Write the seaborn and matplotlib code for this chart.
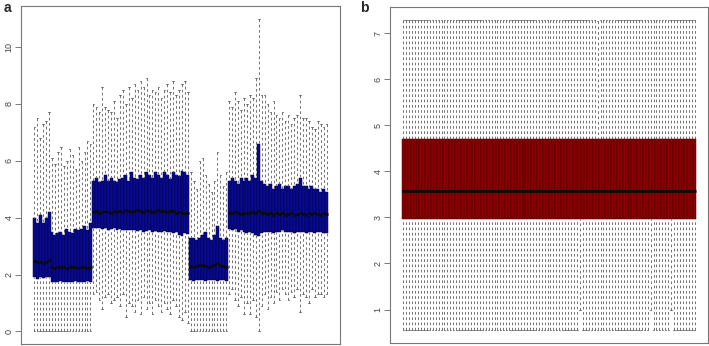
import numpy as np
import pandas as pd
import matplotlib
matplotlib.use('Agg')
import matplotlib.pyplot as plt
import seaborn as sns

# ---- panel a : raw intensities, 100 arrays in 5 batches ----
# batch 1 (6 arrays)
lo1 = [0.0, 0.0, 0.0, 0.0, 0.0, 0.0]
q1_1 = [1.9, 1.85, 1.9, 1.88, 1.9, 1.9]
med1 = [2.48, 2.45, 2.45, 2.42, 2.45, 2.5]
q3_1 = [4.0, 3.8, 4.1, 3.8, 4.0, 4.2]
hi1 = [7.2, 7.5, 6.8, 7.3, 7.4, 7.7]

# batch 2 (14 arrays)
lo2 = [0.0, 0.0, 0.0, 0.0, 0.0, 0.0, 0.0, 0.0, 0.0, 0.0, 0.0, 0.0, 0.0, 0.0]
q1_2 = [1.75, 1.73, 1.75, 1.76, 1.74, 1.75, 1.75, 1.73, 1.76, 1.75, 1.74, 1.75, 1.76, 1.75]
med2 = [2.25, 2.22, 2.25, 2.28, 2.25, 2.22, 2.25, 2.27, 2.25, 2.24, 2.26, 2.25, 2.23, 2.25]
q3_2 = [3.5, 3.4, 3.45, 3.5, 3.4, 3.6, 3.5, 3.45, 3.6, 3.55, 3.6, 3.7, 3.55, 3.8]
hi2 = [6.1, 5.9, 6.3, 6.5, 5.8, 6.0, 6.4, 6.2, 5.7, 6.5, 6.0, 6.3, 6.7, 6.6]

# batch 3 (33 arrays)
lo3 = [1.3, 1.4, 1.1, 0.8, 1.2, 1.3, 1.0, 1.1, 1.2, 0.9, 1.3, 0.5, 1.0, 0.9, 0.7, 1.1, 0.6,
       1.2, 0.8, 1.0, 0.6, 1.1, 0.9, 0.7, 1.0, 0.8, 0.6, 1.1, 0.9, 0.5, 0.4, 0.7, 0.3]
q1_3 = [3.65, 3.62, 3.64, 3.6, 3.62, 3.58, 3.6, 3.62, 3.58, 3.6, 3.56, 3.58, 3.55, 3.57, 3.55, 3.52, 3.55,
        3.5, 3.52, 3.55, 3.5, 3.52, 3.48, 3.5, 3.52, 3.48, 3.5, 3.45, 3.48, 3.4, 3.35, 3.45, 3.42]
med3 = [4.2, 4.22, 4.18, 4.2, 4.25, 4.2, 4.18, 4.22, 4.2, 4.24, 4.2, 4.26, 4.22, 4.2, 4.25, 4.28, 4.22,
        4.2, 4.26, 4.24, 4.2, 4.22, 4.28, 4.25, 4.22, 4.2, 4.24, 4.22, 4.18, 4.2, 4.16, 4.18, 4.15]
q3_3 = [5.3, 5.4, 5.25, 5.3, 5.5, 5.3, 5.4, 5.3, 5.25, 5.35, 5.4, 5.5, 5.3, 5.6, 5.4, 5.35, 5.5,
        5.4, 5.6, 5.5, 5.4, 5.6, 5.5, 5.4, 5.6, 5.5, 5.35, 5.6, 5.5, 5.45, 5.65, 5.6, 5.5]
hi3 = [8.0, 7.9, 7.7, 8.6, 7.9, 7.8, 7.7, 8.1, 7.5, 8.3, 8.5, 8.0, 8.6, 8.2, 8.7, 8.5, 8.8,
       8.6, 8.9, 8.3, 8.5, 8.4, 8.6, 8.2, 8.5, 8.7, 8.4, 8.8, 8.3, 8.5, 8.7, 8.8, 8.4]

# batch 4 (13 arrays)
lo4 = [0.0, 0.0, 0.0, 0.0, 0.0, 0.0, 0.0, 0.0, 0.0, 0.0, 0.0, 0.0, 0.0]
q1_4 = [1.8, 1.78, 1.8, 1.82, 1.8, 1.79, 1.8, 1.81, 1.8, 1.78, 1.8, 1.8, 1.79]
med4 = [2.3, 2.28, 2.3, 2.32, 2.35, 2.3, 2.28, 2.3, 2.35, 2.4, 2.32, 2.3, 2.28]
q3_4 = [3.3, 3.3, 3.2, 3.3, 3.4, 3.5, 3.3, 3.2, 3.4, 3.7, 3.3, 3.2, 3.3]
hi4 = [5.6, 5.3, 5.0, 6.0, 6.1, 5.5, 5.2, 4.9, 5.3, 6.3, 5.5, 5.1, 5.6]

# batch 5 (34 arrays)
lo5 = [1.3, 1.5, 1.1, 0.9, 1.2, 0.6, 1.0, 0.6, 1.1, 0.5, 0.0, 0.9, 1.3, 0.8, 1.2, 1.0, 1.4,
       1.1, 1.5, 1.3, 1.1, 1.4, 1.2, 1.5, 0.7, 1.3, 1.2, 1.0, 1.5, 1.2, 1.3, 1.3, 1.2, 1.3]
q1_5 = [3.6, 3.55, 3.6, 3.5, 3.55, 3.5, 3.45, 3.5, 3.45, 3.4, 3.35, 3.45, 3.5, 3.5, 3.5, 3.45, 3.5,
        3.5, 3.55, 3.5, 3.5, 3.5, 3.45, 3.5, 3.5, 3.5, 3.45, 3.5, 3.5, 3.45, 3.5, 3.5, 3.45, 3.45]
med5 = [4.18, 4.15, 4.2, 4.15, 4.12, 4.15, 4.18, 4.15, 4.2, 4.15, 4.22, 4.18, 4.15, 4.12, 4.15, 4.1, 4.15,
        4.12, 4.15, 4.1, 4.12, 4.15, 4.1, 4.12, 4.15, 4.12, 4.1, 4.15, 4.12, 4.15, 4.12, 4.1, 4.15, 4.12]
q3_5 = [5.3, 5.4, 5.3, 5.2, 5.4, 5.3, 5.4, 5.3, 5.5, 5.4, 6.6, 5.3, 5.2, 5.1, 5.2, 5.0, 5.1,
        5.2, 5.0, 5.1, 5.1, 5.0, 5.1, 5.2, 5.4, 5.1, 5.1, 5.0, 5.1, 5.0, 5.0, 4.9, 5.0, 4.9]
hi5 = [8.1, 7.9, 8.4, 8.1, 7.8, 8.2, 8.0, 8.3, 8.2, 8.9, 11.0, 8.3, 8.3, 8.0, 7.7, 8.1, 7.6,
       7.5, 7.7, 7.4, 7.6, 7.3, 7.5, 7.6, 8.3, 7.5, 7.5, 7.4, 7.2, 7.1, 7.4, 7.3, 7.2, 7.3]

# ---- panel b : after normalisation every array has the same box ----
n_b = 100
b_lo_value = 0.55
b_q1_value = 2.97
b_med_value = 3.57
b_q3_value = 4.71
b_hi_value = 7.29
b_lo_short = {60: 0.98, 84: 0.98, 91: 0.98}   # a few arrays stop higher
b_hi_short = {66: 7.26}

a_lo = lo1 + lo2 + lo3 + lo4 + lo5
a_q1 = q1_1 + q1_2 + q1_3 + q1_4 + q1_5
a_med = med1 + med2 + med3 + med4 + med5
a_q3 = q3_1 + q3_2 + q3_3 + q3_4 + q3_5
a_hi = hi1 + hi2 + hi3 + hi4 + hi5

b_lo = [b_lo_short.get(i, b_lo_value) for i in range(n_b)]
b_q1 = [b_q1_value] * n_b
b_med = [b_med_value] * n_b
b_q3 = [b_q3_value] * n_b
b_hi = [b_hi_short.get(i, b_hi_value) for i in range(n_b)]


def long_table(lo, q1, med, q3, hi):
    # five points per array give exactly these quartiles / extremes
    rows = []
    for i, vals in enumerate(zip(lo, q1, med, q3, hi)):
        for v in vals:
            rows.append((i, v))
    return pd.DataFrame(rows, columns=['sample', 'value'])


sns.set_theme(style='white')
plt.rcParams['font.family'] = ['Liberation Sans', 'DejaVu Sans']
plt.rcParams['lines.scale_dashes'] = False


def draw(ax, df, fill, edge, ylim, ticks):
    sns.boxplot(data=df, x='sample', y='value', ax=ax, color=fill, saturation=1,
                width=1.0, whis=(0, 100), linecolor=edge, linewidth=0.35,
                fliersize=0,
                whiskerprops={'linestyle': (0, (1.9, 1.9)), 'color': '#5a5a5a', 'linewidth': 0.6},
                capprops={'color': '#5a5a5a', 'linewidth': 0.6},
                medianprops={'color': '#0a0a0a', 'linewidth': 2.0})
    # dashes start from the whisker end, like R does
    for ln in ax.lines:
        x = np.asarray(ln.get_xdata())
        y = np.asarray(ln.get_ydata())
        if len(x) == 2 and x[0] == x[1]:
            ln.set_data(x[::-1], y[::-1])
    ax.set_xlim(-4.5, 103.5)
    ax.set_ylim(*ylim)
    ax.set_xticks([])
    ax.set_yticks(ticks)
    ax.set_yticklabels([str(t) for t in ticks])
    ax.set_xlabel('')
    ax.set_ylabel('')
    ax.tick_params(axis='y', left=True, length=4, width=0.6, color='#666666',
                   labelsize=6.5, labelcolor='#444444', pad=1.5, labelrotation=90)
    for sp in ax.spines.values():
        sp.set_color('#777777')
        sp.set_linewidth(0.8)
    for lab in ax.get_yticklabels():
        lab.set_va('center')


fig = plt.figure(figsize=(7.09, 3.46), dpi=100)
ax_a = fig.add_axes([21 / 709, 2 / 346, 319 / 709, 338 / 346])
ax_b = fig.add_axes([390 / 709, 3.3 / 346, 318 / 709, 335.4 / 346])

draw(ax_a, long_table(a_lo, a_q1, a_med, a_q3, a_hi), '#0a0a90', '#000045',
     (-0.44, 11.44), [0, 2, 4, 6, 8, 10])
draw(ax_b, long_table(b_lo, b_q1, b_med, b_q3, b_hi), '#8B0000', '#4a0000',
     (0.28, 7.56), [1, 2, 3, 4, 5, 6, 7])

fig.text(7 / 709, 1 - 8 / 346, 'a', fontsize=10, fontweight='bold', ha='center', va='center')
fig.text(364 / 709, 1 - 8 / 346, 'b', fontsize=10, fontweight='bold', ha='center', va='center')

fig.savefig('out.png', dpi=100)
